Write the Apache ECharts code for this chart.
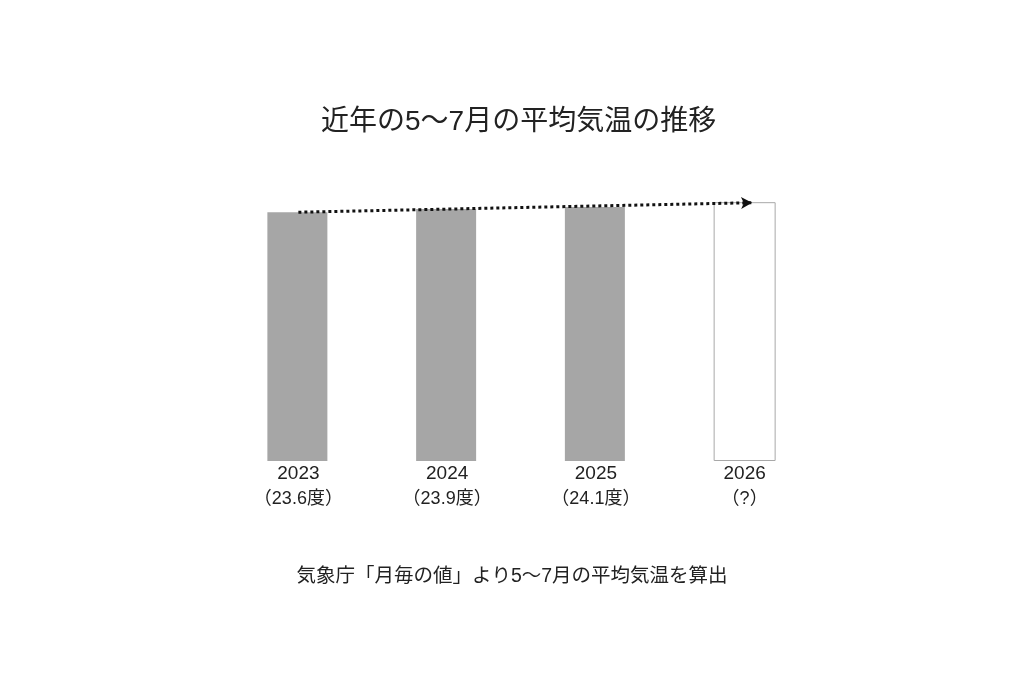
<!DOCTYPE html>
<html><head><meta charset="utf-8">
<script src="https://cdn.jsdelivr.net/npm/echarts@6/dist/echarts.min.js"></script>
<style>html,body{margin:0;padding:0;background:#fff}#c{width:1024px;height:683px}</style>
</head><body><div id="c"></div>
<script>
const categories = ['2023', '2024', '2025', '2026'];
const valueLabels = ['（23.6度）', '（23.9度）', '（24.1度）', '（?）'];
const observed = [23.6, 23.9, 24.1, null];
const placeholder = [null, null, null, 24.55];
const trendFrom = [0, 23.6];
const trendTo = [3.05, 24.5];

const chart = echarts.init(document.getElementById('c'));
const font = '"Liberation Sans", "Noto Sans CJK JP", sans-serif';
chart.setOption({
  backgroundColor: '#ffffff',
  animation: false,
  title: [{
    text: '近年の5〜7月の平均気温の推移',
    left: 321, top: 108, padding: 0,
    textStyle: { fontFamily: font, fontSize: 28, fontWeight: 'normal', color: '#222' }
  }, {
    text: '気象庁「月毎の値」より5〜7月の平均気温を算出',
    left: 'center', top: 562,
    textStyle: { fontFamily: font, fontSize: 19.5, fontWeight: 'normal', color: '#222' }
  }],
  grid: { left: 224, right: 205, top: 150, bottom: 222 },
  xAxis: [{
    type: 'category', data: categories,
    axisLine: { show: false }, axisTick: { show: false },
    axisLabel: {
      margin: 0,
      formatter: (v, i) => '{y|' + v + '}\n{v|' + valueLabels[i] + '}',
      rich: {
        y: { fontFamily: font, fontSize: 19, color: '#222', lineHeight: 25 },
        v: { fontFamily: font, fontSize: 18, color: '#222', lineHeight: 27 }
      }
    }
  }, {
    type: 'value', min: -0.5, max: 3.5, show: false
  }],
  yAxis: {
    type: 'value', min: 0, max: 29.5, show: true,
    axisLabel: { show: false }, axisLine: { show: false }, axisTick: { show: false },
    splitLine: { show: false }
  },
  series: [{
    type: 'bar', data: observed, barWidth: 60, barGap: '-100%',
    itemStyle: { color: '#a6a6a6' }
  }, {
    type: 'bar', data: placeholder, barWidth: 62,
    itemStyle: { color: '#ffffff', borderColor: '#a8a8a8', borderWidth: 1 }
  }, {
    type: 'line', xAxisIndex: 1, data: [], symbol: 'none',
    markLine: {
      silent: true, symbol: ['none', 'arrow'], symbolSize: [9, 11],
      label: { show: false },
      lineStyle: { color: '#111', width: 3, type: [3, 3] },
      data: [[{ coord: trendFrom }, { coord: trendTo }]]
    }
  }]
});
</script></body></html>
